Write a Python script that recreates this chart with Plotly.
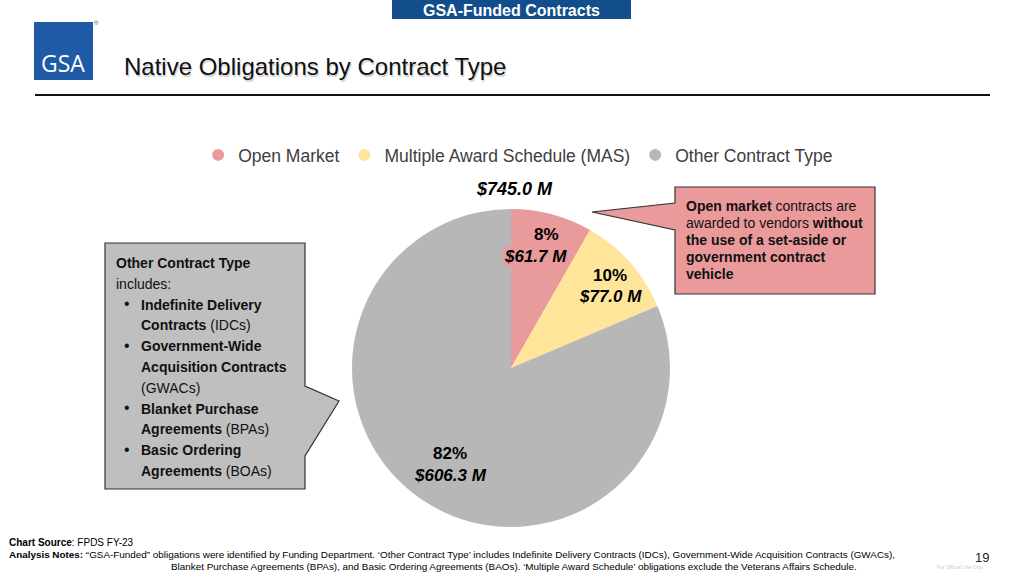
import plotly.graph_objects as go

W, H = 1024, 576

# data
categories = ["Open Market", "Multiple Award Schedule (MAS)", "Other Contract Type"]
values_m = [61.7, 77.0, 606.3]
pct_labels = ["8%", "10%", "82%"]
colors = ["#E99A9B", "#FEE59A", "#B7B7B7"]

FONT = "Liberation Sans, Arial, sans-serif"


def px(x, y):
    return x / W, 1 - y / H


fig = go.Figure()

fig.add_trace(go.Pie(
    labels=categories,
    values=values_m,
    sort=False,
    direction="clockwise",
    rotation=0,
    marker=dict(colors=colors, line=dict(width=0)),
    textinfo="none",
    hoverinfo="label+value+percent",
    showlegend=False,
    domain=dict(x=[352 / W, 670 / W], y=[49 / H, 367 / H]),
))

# legend entries with round markers
for name, col in zip(categories, colors):
    fig.add_trace(go.Scatter(
        x=[None], y=[None], mode="markers", name=name,
        marker=dict(symbol="circle", size=12, color=col),
    ))

annotations = []
shapes = []


def text(x, y, s, size=14, color="#000000", xanchor="left", bg=None, family=FONT):
    ax, ay = px(x, y)
    annotations.append(dict(
        x=ax, y=ay, xref="paper", yref="paper", text=s, showarrow=False,
        xanchor=xanchor, yanchor="middle", align=xanchor if xanchor != "center" else "center",
        font=dict(family=family, size=size, color=color),
        bgcolor=bg, borderpad=0,
    ))


def path(points):
    d = ""
    for i, (x, y) in enumerate(points):
        ax, ay = px(x, y)
        d += ("M" if i == 0 else "L") + f"{ax:.5f},{ay:.5f} "
    return d + "Z"


# header tab
shapes.append(dict(type="rect", xref="paper", yref="paper",
                   x0=392 / W, x1=631 / W, y0=1 - 19 / H, y1=1,
                   fillcolor="#124E8B", line=dict(width=0), layer="below"))
text(511, 10, "<b>GSA-Funded Contracts</b>", size=16, color="#FFFFFF", xanchor="center")

# logo
shapes.append(dict(type="rect", xref="paper", yref="paper",
                   x0=34 / W, x1=93 / W, y0=1 - 80 / H, y1=1 - 22 / H,
                   fillcolor="#1F5AA6", line=dict(width=0), layer="below"))
text(63, 63, "GSA", size=23, color="#FFFFFF", xanchor="center", family="Open Sans, sans-serif")
text(96, 23, "®", size=6, color="#1F5AA6", xanchor="center")

# title with soft shadow
text(124, 68, "Native Obligations by Contract Type", size=24, color="#D4D4D4")
text(123, 67, "Native Obligations by Contract Type", size=24, color="#111111")

# rule
shapes.append(dict(type="line", xref="paper", yref="paper",
                   x0=35 / W, x1=990 / W, y0=1 - 95 / H, y1=1 - 95 / H,
                   line=dict(color="#111111", width=2)))

# total above pie
total = sum(values_m)
text(514, 189, f"<b><i>${total:.1f} M</i></b>", size=18, xanchor="center")

# slice labels
label_pos = [(535, 234, 256), (610, 275, 296), (450, 453, 475)]
for (lx, y1, y2), p, v, col in zip(label_pos, pct_labels, values_m, colors):
    bg = col if p == "8%" else None
    text(lx + (11 if p == "8%" else 0), y1, f"<b>{p}</b>", size=17, xanchor="center")
    text(lx, y2, f"<b><i>${v:.1f} M</i></b>", size=17, xanchor="center", bg=bg)

# right callout
shapes.append(dict(type="path", xref="paper", yref="paper",
                   path=path([(675, 187), (875, 187), (875, 294), (675, 294),
                              (675, 230), (592, 212), (675, 203)]),
                   fillcolor="#EA9A9A", line=dict(color="#333333", width=1.2), layer="below"))
right_lines = [
    "<b>Open market</b> contracts are",
    "awarded to vendors <b>without</b>",
    "<b>the use of a set-aside or</b>",
    "<b>government contract</b>",
    "<b>vehicle</b>",
]
for i, s in enumerate(right_lines):
    text(685, 206 + i * 17, s, size=14, color="#111111")

# left callout
shapes.append(dict(type="path", xref="paper", yref="paper",
                   path=path([(105, 243), (305, 243), (305, 386), (339, 401),
                              (305, 456), (305, 489), (105, 489)]),
                   fillcolor="#BFBFBF", line=dict(color="#333333", width=1.2), layer="below"))
left_lines = [
    (115, "<b>Other Contract Type</b>", False),
    (115, "includes:", False),
    (140, "<b>Indefinite Delivery</b>", True),
    (140, "<b>Contracts</b> (IDCs)", False),
    (140, "<b>Government-Wide</b>", True),
    (140, "<b>Acquisition Contracts</b>", False),
    (140, "(GWACs)", False),
    (140, "<b>Blanket Purchase</b>", True),
    (140, "<b>Agreements</b> (BPAs)", False),
    (140, "<b>Basic Ordering</b>", True),
    (140, "<b>Agreements</b> (BOAs)", False),
]
for i, (x, s, bullet) in enumerate(left_lines):
    y = 263 + i * 20.8
    text(x, y, s, size=14, color="#111111")
    if bullet:
        text(127, y - 1, "•", size=16, color="#111111", xanchor="center")

# footer
text(8, 542, "<b>Chart Source</b>: FPDS FY-23", size=10)
text(8, 554, "<b>Analysis Notes:</b> “GSA-Funded” obligations were identified by Funding Department. "
             "‘Other Contract Type’ includes Indefinite Delivery Contracts (IDCs), "
             "Government-Wide Acquisition Contracts (GWACs),", size=9.9)
text(170, 566, "Blanket Purchase Agreements (BPAs), and Basic Ordering Agreements (BAOs). "
               "‘Multiple Award Schedule’ obligations exclude the Veterans Affairs Schedule.", size=9.9)
text(982, 557, "19", size=13, color="#222222", xanchor="center")
text(960, 567, "For Official Use Only", size=5, color="#CCCCCC", xanchor="center")

fig.update_layout(
    width=W, height=H,
    margin=dict(l=0, r=0, t=0, b=0),
    paper_bgcolor="#FFFFFF",
    plot_bgcolor="#FFFFFF",
    font=dict(family=FONT),
    xaxis=dict(visible=False, domain=[0, 0.01]),
    yaxis=dict(visible=False, domain=[0, 0.01]),
    showlegend=True,
    legend=dict(
        orientation="h", x=0.506, xanchor="center", y=1 - 155 / H, yanchor="middle",
        font=dict(family=FONT, size=17.5, color="#404040"),
        itemclick=False, itemdoubleclick=False,
        bgcolor="rgba(0,0,0,0)",
    ),
    annotations=annotations,
    shapes=shapes,
)

# the page's default body margin would shift the figure by 8px
fig.write_html("out.html", config={"displayModeBar": False},
               post_script="document.body.style.margin='0';")
